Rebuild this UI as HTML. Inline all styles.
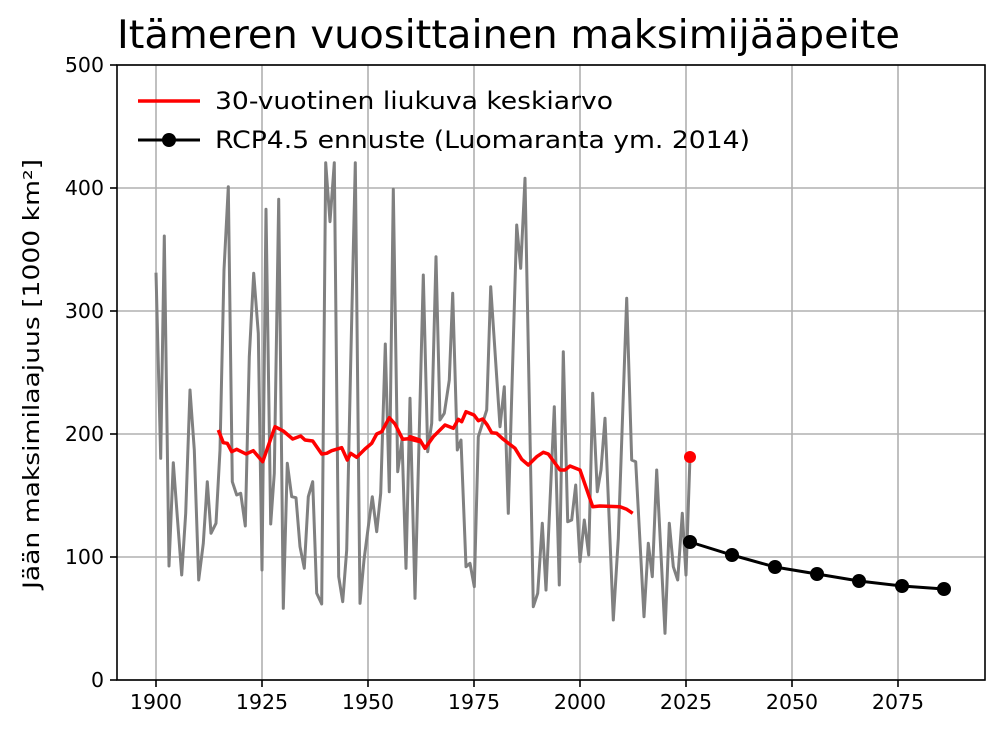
<!DOCTYPE html>
<html><head><meta charset="utf-8"><style>
body{margin:0;background:#fff}
svg text{font-family:"DejaVu Sans","Liberation Sans",sans-serif;fill:#000}
</style></head><body>
<svg id="s" width="1000" height="737" xmlns="http://www.w3.org/2000/svg">
<rect width="1000" height="737" fill="#fff"/>
<g id="grid" stroke="#b0b0b0" stroke-width="1.6"></g>
<polyline id="gray" fill="none" stroke="#808080" stroke-width="3" stroke-linejoin="round"/>
<polyline id="red" fill="none" stroke="#ff0000" stroke-width="3.5" stroke-linejoin="round"/>
<circle cx="690" cy="457" r="6" fill="#ff0000"/>
<polyline points="690,542 732,555 775,567 817,574 859,581 902,586 944,589" fill="none" stroke="#000" stroke-width="3"/>
<g fill="#000"><circle cx="690" cy="542" r="7"/><circle cx="732" cy="555" r="7"/><circle cx="775" cy="567" r="7"/><circle cx="817" cy="574" r="7"/><circle cx="859" cy="581" r="7"/><circle cx="902" cy="586" r="7"/><circle cx="944" cy="589" r="7"/></g>
<rect x="117" y="65" width="868" height="615" fill="none" stroke="#000" stroke-width="1.6"/>
<g id="ticks" stroke="#000" stroke-width="1.6"></g>
<g id="lab" font-size="20.5"></g>
<text x="117" y="48" font-size="39" textLength="783" lengthAdjust="spacingAndGlyphs">Itämeren vuosittainen maksimijääpeite</text>
<text transform="translate(39,374) rotate(-90)" font-size="22" text-anchor="middle" textLength="430" lengthAdjust="spacingAndGlyphs">Jään maksimilaajuus [1000 km²]</text>
<line x1="138" y1="101" x2="200" y2="101" stroke="#ff0000" stroke-width="3.5"/>
<text x="215" y="109" font-size="24" textLength="398" lengthAdjust="spacingAndGlyphs">30-vuotinen liukuva keskiarvo</text>
<line x1="138" y1="140" x2="200" y2="140" stroke="#000" stroke-width="3"/>
<circle cx="169" cy="140" r="7" fill="#000"/>
<text x="215" y="148" font-size="24" textLength="535" lengthAdjust="spacingAndGlyphs">RCP4.5 ennuste (Luomaranta ym. 2014)</text>
</svg>
<script>
var NS="http://www.w3.org/2000/svg";
function el(p,t,a,txt){var e=document.createElementNS(NS,t);for(var k in a)e.setAttribute(k,a[k]);if(txt)e.textContent=txt;document.getElementById(p).appendChild(e);}
var xs=[1900,1925,1950,1975,2000,2025,2050,2075];
xs.forEach(function(y,i){var x=156+106*i;el("grid","line",{x1:x,y1:65,x2:x,y2:680});el("ticks","line",{x1:x,y1:680,x2:x,y2:687});el("lab","text",{x:x,y:709,"text-anchor":"middle"},""+y);});
for(var i=0;i<=5;i++){var y=680-123*i;el("grid","line",{x1:117,y1:y,x2:985,y2:y});el("ticks","line",{x1:110,y1:y,x2:117,y2:y});el("lab","text",{x:104,y:y+7,"text-anchor":"end"},""+(i*100));}
var z1=[48,368,62,925,73,258,87,1248,100,938,112,1100,125,1275,137,1090,150,720,163,900,176,1290,190,1180,202,995,213,1150,228,1120,240,900,252,360,265,110,277,995,290,1035,302,1030,316,1128,328,620,341,370,355,550,366,1260,378,178,392,1122,403,970,416,148,430,1375,442,940,455,1040,468,1043,480,1190,493,1255,505,1040,518,995,530,1330,545,1362,557,38,570,215,583,38,596,1280,608,1355,620,1200,632,640,646,38,660,1360,672,1230,685,1130,697,1040,710,1145,722,1030,736,582,748,1025,760,118,773,965,786,870,798,1255,810,745,825,1345];
var z2=[70,375,83,905,95,820,108,320,120,810,133,790,148,690,158,430,172,900,183,870,198,1250,210,1240,223,1310,235,860,260,780,272,410,300,830,313,710,325,1090,350,225,362,355,375,85,400,1370,413,1330,427,1120,438,1320,463,770,478,1305,490,605,503,1115,515,1110,527,1005,540,1235,553,1110,566,1215,578,730,592,1025,603,960,615,805,640,1410,655,1165,680,445,695,930,707,935,732,1400,745,1180,757,1280,770,960,795,1450,808,1120,820,1250,833,1290,847,1090,858,1275,870,920];
var r1=[235,840,250,878,262,880,275,905,290,898,318,912,340,902,368,935,405,830,430,843,458,867,482,858,495,870,518,873,545,912,560,910,575,902,605,893,622,930,632,910,650,922,675,897,695,880,710,852,725,845,748,803,765,822,788,868,805,866,840,875];
var r2=[30,860,60,870,75,895,100,860,135,825,160,835,175,808,185,815,198,785,222,795,235,812,248,807,262,825,275,848,290,850,310,868,345,895,365,928,385,945,410,920,430,907,445,912,480,960,495,960,510,948,540,960,578,1070,600,1068,660,1070,680,1078,698,1090];
function pts(a,ox,oy){var s=[];for(var i=0;i<a.length;i+=2)s.push((ox+a[i]/3).toFixed(1)+","+(oy+a[i+1]/3).toFixed(1));return s;}
document.getElementById("gray").setAttribute("points",pts(z1,140,150).concat(pts(z2,400,150)).join(" "));
document.getElementById("red").setAttribute("points",pts(r1,140,150).concat(pts(r2,400,150)).join(" "));
</script>
</body></html>
